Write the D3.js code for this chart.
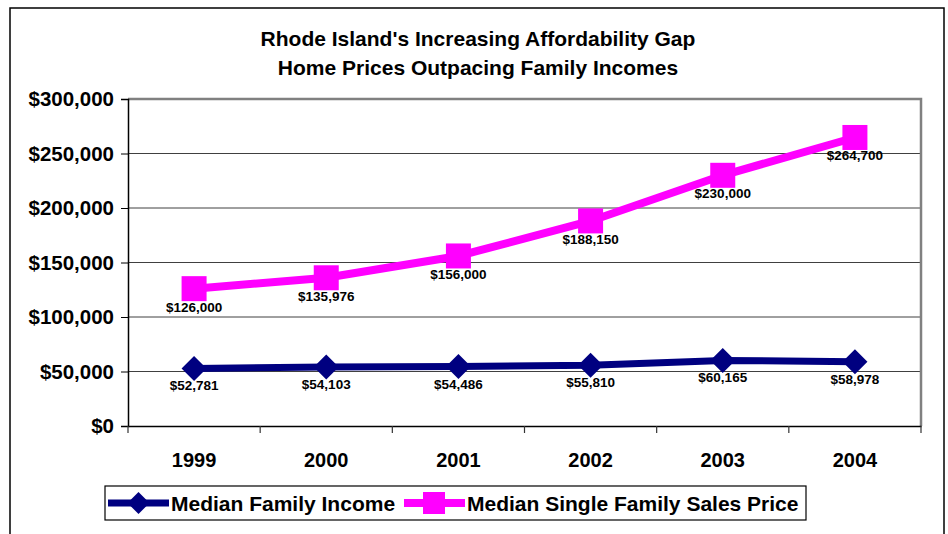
<!DOCTYPE html>
<html><head><meta charset="utf-8">
<script src="https://cdn.jsdelivr.net/npm/d3@7"></script>
<style>body{margin:0;background:#fff}svg{display:block}text{font-family:"Liberation Sans",Arial,sans-serif;font-weight:bold;fill:#000}</style>
</head><body>
<script>
const years = ["1999","2000","2001","2002","2003","2004"];
const income = [52781, 54103, 54486, 55810, 60165, 58978];
const price = [126000, 135976, 156000, 188150, 230000, 264700];
const yTicks = [0, 50000, 100000, 150000, 200000, 250000, 300000];
const titleLines = ["Rhode Island's Increasing Affordability Gap", "Home Prices Outpacing Family Incomes"];
const seriesNames = ["Median Family Income", "Median Single Family Sales Price"];

const W = 948, H = 534;
const svg = d3.select("body").append("svg").attr("width", W).attr("height", H);
svg.append("rect").attr("x", 10).attr("y", 8).attr("width", 934).attr("height", 540)
  .attr("fill", "#fff").attr("stroke", "#000").attr("stroke-width", 1.5);

const L = 128, R = 921, T = 99, B = 426;
const x = d3.scaleBand().domain(years).range([L, R]);
const y = d3.scaleLinear().domain([0, 300000]).range([B, T]);
const fmt = d3.format("$,");

svg.selectAll("text.title").data(titleLines).join("text").attr("class", "title")
  .attr("x", 478).attr("y", (d, i) => 46 + i * 29).attr("text-anchor", "middle")
  .style("font-size", "21px").text(d => d);

// gridlines
svg.append("g").selectAll("line").data(yTicks.filter(v => v > 0 && v < 300000)).join("line")
  .attr("x1", L).attr("x2", R).attr("y1", d => y(d)).attr("y2", d => y(d))
  .attr("stroke", "#404040").attr("stroke-width", 1);
// plot frame top/right
svg.append("path").attr("d", `M${L},${T}H${R}V${B}`).attr("fill", "none")
  .attr("stroke", "#808080").attr("stroke-width", 2.5);

// y axis
const ya = svg.append("g").attr("transform", `translate(${L},0)`)
  .call(d3.axisLeft(y).tickValues(yTicks).tickFormat(fmt).tickSize(7).tickPadding(7));
ya.select(".domain").attr("stroke", "#000").attr("stroke-width", 1.5);
ya.selectAll(".tick line").attr("stroke", "#000");
ya.selectAll("text").style("font-size", "20.5px").attr("font-family", null);

// x axis
const xa = svg.append("g").attr("transform", `translate(0,${B})`)
  .call(d3.axisBottom(x).tickSize(0).tickPadding(27));
xa.select(".domain").attr("stroke", "#000").attr("stroke-width", 1.5);
xa.selectAll("text").style("font-size", "20px").attr("font-family", null);
svg.append("g").selectAll("line").data(d3.range(years.length + 1)).join("line")
  .attr("x1", i => L + i * x.step()).attr("x2", i => L + i * x.step())
  .attr("y1", B).attr("y2", B + 7).attr("stroke", "#333").attr("stroke-width", 1.2);

const cx = i => x(years[i]) + x.bandwidth() / 2;
const line = d3.line().x((d, i) => cx(i)).y(d => y(d));

// price series
svg.append("path").datum(price).attr("d", line).attr("fill", "none")
  .attr("stroke", "#FF00FF").attr("stroke-width", 8);
svg.append("g").selectAll("rect").data(price).join("rect")
  .attr("x", (d, i) => cx(i) - 12.5).attr("y", d => y(d) - 12.5)
  .attr("width", 25).attr("height", 25).attr("fill", "#FF00FF");

// income series
svg.append("path").datum(income).attr("d", line).attr("fill", "none")
  .attr("stroke", "#000080").attr("stroke-width", 7);
const diamond = (cxv, cyv, r) => `M${cxv},${cyv - r}L${cxv + r},${cyv}L${cxv},${cyv + r}L${cxv - r},${cyv}Z`;
svg.append("g").selectAll("path").data(income).join("path")
  .attr("d", (d, i) => diamond(cx(i), y(d), 12.5)).attr("fill", "#000080");

// data labels
svg.append("g").selectAll("text").data(price).join("text")
  .attr("x", (d, i) => cx(i)).attr("y", d => y(d) + 23).attr("text-anchor", "middle")
  .style("font-size", "13.5px").text(d => fmt(d));
svg.append("g").selectAll("text").data(income).join("text")
  .attr("x", (d, i) => cx(i)).attr("y", d => y(d) + 22).attr("text-anchor", "middle")
  .style("font-size", "13.5px").text(d => fmt(d));

// legend
const lg = svg.append("g");
lg.append("rect").attr("x", 105).attr("y", 486).attr("width", 701).attr("height", 34)
  .attr("fill", "#fff").attr("stroke", "#000").attr("stroke-width", 1.2);
lg.append("line").attr("x1", 108).attr("x2", 169).attr("y1", 503).attr("y2", 503)
  .attr("stroke", "#000080").attr("stroke-width", 7);
lg.append("path").attr("d", diamond(138.5, 503, 11)).attr("fill", "#000080");
lg.append("text").attr("x", 171).attr("y", 510.5).style("font-size", "21px").text(seriesNames[0]);
lg.append("line").attr("x1", 404).attr("x2", 465).attr("y1", 503).attr("y2", 503)
  .attr("stroke", "#FF00FF").attr("stroke-width", 8);
lg.append("rect").attr("x", 423).attr("y", 492).attr("width", 22).attr("height", 22).attr("fill", "#FF00FF");
lg.append("text").attr("x", 467).attr("y", 510.5).style("font-size", "21px").text(seriesNames[1]);
</script>
</body></html>
